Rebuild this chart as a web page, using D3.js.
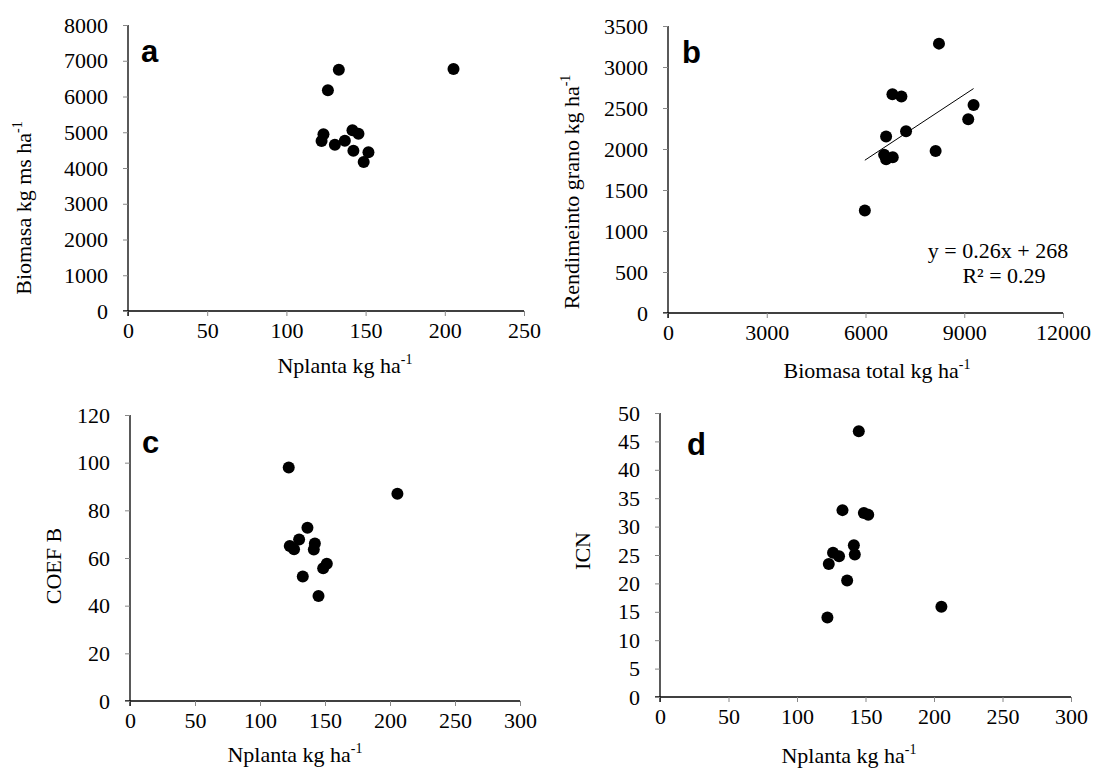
<!DOCTYPE html>
<html>
<head>
<meta charset="utf-8">
<script src="https://cdn.jsdelivr.net/npm/d3@7"></script>
<style>
  body { margin: 0; background: #fff; }
  svg { display: block; }
  .lbl { font-family: "Liberation Serif", "Times New Roman", serif; font-size: 22px; fill: #000; }
  .letter { font-family: "Liberation Sans", Arial, sans-serif; font-weight: bold; font-size: 31px; fill: #000; }
</style>
</head>
<body>
<div id="chartRegion"></div>
<script>
/* values, 12 plots per panel */
var nplantaA = [133.1, 205.5, 126.2, 123.4, 122.2, 130.6, 136.9, 141.7, 145.5, 142.3, 151.8, 148.8];
var biomasaA = [6751, 6769, 6172, 4942, 4755, 4653, 4765, 5054, 4960, 4485, 4438, 4168];

var biomasaB = [8232, 6818, 7091, 9283, 9121, 6626, 7232, 6566, 6626, 6828, 8131, 5980];
var rendimB  = [3285, 2668, 2639, 2538, 2363, 2152, 2217, 1929, 1876, 1900, 1977, 1251];

var nplantaC = [122.1, 205.7, 136.5, 130.1, 122.9, 126.2, 142.2, 141.4, 151.4, 148.6, 132.9, 145.0];
var coefC    = [98.0, 87.0, 72.7, 67.8, 65.0, 63.7, 66.1, 63.6, 57.6, 55.7, 52.2, 44.1];

var nplantaD = [145.1, 133.2, 148.8, 152.0, 141.5, 126.3, 130.7, 142.2, 123.2, 136.6, 205.4, 122.2];
var icnD     = [46.8, 32.9, 32.4, 32.1, 26.7, 25.4, 24.8, 25.1, 23.4, 20.5, 15.9, 14.0];

var ticksA_x = [0, 50, 100, 150, 200, 250];
var ticksA_y = [0, 1000, 2000, 3000, 4000, 5000, 6000, 7000, 8000];
var ticksB_x = [0, 3000, 6000, 9000, 12000];
var ticksB_y = [0, 500, 1000, 1500, 2000, 2500, 3000, 3500];
var ticksC_x = [0, 50, 100, 150, 200, 250, 300];
var ticksC_y = [0, 20, 40, 60, 80, 100, 120];
var ticksD_x = [0, 50, 100, 150, 200, 250, 300];
var ticksD_y = [0, 5, 10, 15, 20, 25, 30, 35, 40, 45, 50];

var eqText = "y = 0.26x + 268";
var r2Text = "R\u00B2 = 0.29";

var svg = d3.select("#chartRegion").append("svg").attr("width", 1093).attr("height", 772);

function drawPanel(p) {
	var x = d3.scaleLinear().domain([p.xt[0], p.xt[p.xt.length - 1]]).range([p.left, p.right]);
	var y = d3.scaleLinear().domain([p.yt[0], p.yt[p.yt.length - 1]]).range([p.bottom, p.top]);
	var g = svg.append("g");

	var ax = g.append("g").attr("transform", "translate(0," + p.bottom + ")")
		.call(d3.axisBottom(x).tickValues(p.xt).tickSize(5).tickSizeOuter(0).tickPadding(6).tickFormat(d3.format("d")));
	var ay = g.append("g").attr("transform", "translate(" + p.left + ",0)")
		.call(d3.axisLeft(y).tickValues(p.yt).tickSize(5).tickSizeOuter(0).tickPadding(15).tickFormat(d3.format("d")));
	[ax, ay].forEach(function(a) {
		a.attr("font-family", null).attr("font-size", null);
		a.select(".domain").attr("stroke", "#000").attr("stroke-width", 1.3);
		a.selectAll(".tick line").attr("stroke", "#888");
		a.selectAll(".tick text")
			.style("font-family", "'Liberation Serif', 'Times New Roman', serif")
			.style("font-size", "22px").attr("fill", "#000");
	});
	// axis lines reach to the end ticks
	ax.select(".domain").attr("d", "M" + (p.left - 5) + ",0H" + p.right);
	ay.select(".domain").attr("d", "M0," + (p.bottom + 5) + "V" + p.top);

	if (p.fit) {
		var n = p.xs.length, mx = d3.mean(p.xs), my = d3.mean(p.ys);
		var sxy = 0, sxx = 0;
		for (var i = 0; i < n; i++) { sxy += (p.xs[i] - mx) * (p.ys[i] - my); sxx += (p.xs[i] - mx) * (p.xs[i] - mx); }
		var b = sxy / sxx, a0 = my - b * mx;
		var ext = d3.extent(p.xs);
		g.append("line")
			.attr("x1", x(ext[0])).attr("y1", y(a0 + b * ext[0]))
			.attr("x2", x(ext[1])).attr("y2", y(a0 + b * ext[1]))
			.attr("stroke", "#000").attr("stroke-width", 1);
	}

	g.selectAll("circle").data(p.xs).enter().append("circle")
		.attr("cx", function(d) { return x(d); })
		.attr("cy", function(d, i) { return y(p.ys[i]); })
		.attr("r", 6).attr("fill", "#000");

	g.append("text").attr("class", "letter").attr("x", p.left + p.lx).attr("y", p.top + p.ly).text(p.letter);

	var xl = g.append("text").attr("class", "lbl").attr("text-anchor", "middle")
		.attr("x", p.xlx).attr("y", p.bottom + p.xly);
	xl.append("tspan").text(p.xlab);
	if (p.xsup) xl.append("tspan").attr("dy", -9).attr("font-size", 14).text(p.xsup);

	var yl = g.append("text").attr("class", "lbl").attr("text-anchor", "middle")
		.attr("transform", "translate(" + p.ylx + "," + p.yly + ") rotate(-90)");
	yl.append("tspan").text(p.ylab);
	if (p.ysup) yl.append("tspan").attr("dy", -9).attr("font-size", 14).text(p.ysup);
	return { x: x, y: y, g: g };
}

drawPanel({ xs: nplantaA, ys: biomasaA, xt: ticksA_x, yt: ticksA_y,
	left: 128, right: 524, top: 25, bottom: 311, letter: "a", lx: 13, ly: 37,
	xlab: "Nplanta kg ha", xsup: "-1", xlx: 345, xly: 62,
	ylab: "Biomasa kg ms ha", ysup: "-1", ylx: 31, yly: 208 });

var pb = drawPanel({ xs: biomasaB, ys: rendimB, xt: ticksB_x, yt: ticksB_y, fit: true,
	left: 668, right: 1063, top: 26, bottom: 313, letter: "b", lx: 14, ly: 37,
	xlab: "Biomasa total kg ha", xsup: "-1", xlx: 877, xly: 65,
	ylab: "Rendimeinto grano kg ha", ysup: "-1", ylx: 579, yly: 192 });
pb.g.append("text").attr("class", "lbl").attr("text-anchor", "middle").attr("x", 998).attr("y", 258).text(eqText);
pb.g.append("text").attr("class", "lbl").attr("text-anchor", "middle").attr("x", 1004).attr("y", 283).text(r2Text);

drawPanel({ xs: nplantaC, ys: coefC, xt: ticksC_x, yt: ticksC_y,
	left: 130, right: 520, top: 415, bottom: 701, letter: "c", lx: 12, ly: 38,
	xlab: "Nplanta kg ha", xsup: "-1", xlx: 295, xly: 61,
	ylab: "COEF B", ylx: 61, yly: 566 });

drawPanel({ xs: nplantaD, ys: icnD, xt: ticksD_x, yt: ticksD_y,
	left: 660, right: 1071, top: 413, bottom: 697, letter: "d", lx: 27, ly: 42,
	xlab: "Nplanta kg ha", xsup: "-1", xlx: 849, xly: 66,
	ylab: "ICN", ylx: 590, yly: 551 });
</script>
</body>
</html>
